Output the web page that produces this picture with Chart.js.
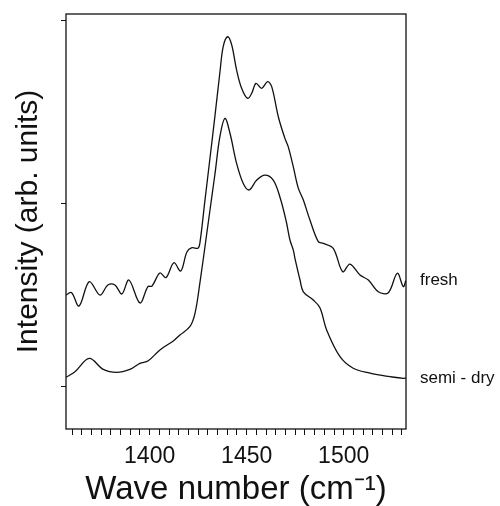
<!DOCTYPE html>
<html>
<head>
<meta charset="utf-8">
<script src="https://cdn.jsdelivr.net/npm/chart.js@4/dist/chart.umd.min.js"></script>
<style>
html,body{margin:0;padding:0;background:#fff;}
#wrap{width:500px;height:506px;}
</style>
</head>
<body>
<div id="wrap"><canvas id="c" width="500" height="506"></canvas></div>
<script>
// wave numbers (cm-1) and intensities
var freshX=[1356.9,1359.8,1363.6,1368.9,1374.4,1378.5,1382.1,1385.7,1389.3,1395,1399.1,1401.2,1405.3,1408.4,1412.5,1416,1419.2,1421.8,1424.9,1425.9,1428.5,1431.1,1433.7,1436.2,1437.9,1440.2,1442.3,1444.8,1447.4,1450.5,1452.6,1454.8,1457.7,1460.8,1462.9,1466.3,1469.7,1471.4,1474,1476.6,1479.2,1482.6,1486.9,1489.5,1494.6,1499.5,1503.2,1508.4,1512.7,1517.8,1523,1527.6,1530.7,1532];
var freshY=[0.501,0.514,0.441,0.574,0.501,0.556,0.556,0.507,0.583,0.458,0.547,0.550,0.621,0.596,0.677,0.632,0.736,0.759,0.756,0.785,1.017,1.248,1.482,1.714,1.855,1.909,1.864,1.728,1.628,1.573,1.601,1.655,1.628,1.664,1.637,1.473,1.355,1.310,1.201,1.084,1.019,0.910,0.792,0.783,0.756,0.628,0.670,0.610,0.583,0.519,0.514,0.620,0.547,0.58];
var semiX=[1356.9,1361.5,1368.9,1376.1,1383,1389.8,1395,1399.3,1405.3,1412.2,1415.6,1420.8,1423.4,1425.9,1429.4,1432.3,1433.7,1436.2,1438.8,1441.4,1444.8,1448.2,1451.2,1455.2,1459.4,1463.7,1467.2,1470.4,1472.3,1474,1474.9,1477.5,1479.2,1484.3,1487.8,1491.2,1498.1,1504.9,1513.6,1518.7,1523.9,1530.7,1532];
var semiY=[0.053,0.083,0.156,0.096,0.080,0.096,0.129,0.143,0.202,0.251,0.283,0.330,0.403,0.567,0.834,1.057,1.164,1.364,1.464,1.383,1.219,1.110,1.074,1.128,1.155,1.128,1.033,0.902,0.801,0.747,0.70,0.583,0.519,0.474,0.431,0.311,0.165,0.102,0.075,0.065,0.056,0.047,0.049];
var seriesNames=['fresh','semi - dry'];
var xTicks=[1400,1450,1500];
var yTicks=[0,1,2];

function pts(xs,ys){return xs.map(function(x,i){return {x:x,y:ys[i]};});}

var frame={
  id:'frame',
  afterDatasetsDraw:function(ch){
    var a=ch.chartArea,ctx=ch.ctx;
    ctx.save();
    ctx.strokeStyle='#111';ctx.lineWidth=1.3;
    ctx.strokeRect(a.left,a.top,a.right-a.left,a.bottom-a.top);
    ctx.fillStyle='#111';ctx.font='17px "Liberation Sans", Arial, sans-serif';
    ctx.textBaseline='middle';ctx.textAlign='left';
    ch.data.datasets.forEach(function(ds){
      var last=ds.data[ds.data.length-1];
      ctx.fillText(ds.label,a.right+14,ch.scales.y.getPixelForValue(last.y));
    });
    ctx.restore();
  }
};

new Chart(document.getElementById('c').getContext('2d'),{
  type:'scatter',
  data:{datasets:[
    {label:seriesNames[0],data:pts(freshX,freshY),showLine:true,borderColor:'#111',borderWidth:1.3,pointRadius:0,tension:0.35,fill:false},
    {label:seriesNames[1],data:pts(semiX,semiY),showLine:true,borderColor:'#111',borderWidth:1.3,pointRadius:0,tension:0.35,fill:false}
  ]},
  options:{
    responsive:false,animation:false,
    layout:{padding:{left:0,right:94,top:14,bottom:0}},
    plugins:{legend:{display:false},tooltip:{enabled:false}},
    scales:{
      x:{type:'linear',min:1356.9,max:1532.1,
        afterFit:function(s){s.height=77;},
        afterBuildTicks:function(s){var t=[];for(var v=1360;v<=1530;v+=5)t.push({value:v});s.ticks=t;},
        grid:{drawOnChartArea:false,drawTicks:true,tickLength:6,color:'#111'},
        border:{display:false},
        ticks:{autoSkip:false,maxRotation:0,padding:8,color:'#111',font:{family:'"Liberation Sans", Arial, sans-serif',size:23},
          callback:function(v){return xTicks.indexOf(v)>=0?String(v):'';}},
        title:{display:true,text:'Wave number (cm\u207B\u00B9)',color:'#111',font:{family:'"Liberation Sans", Arial, sans-serif',size:33,lineHeight:1},padding:{top:0,bottom:0}}
      },
      y:{type:'linear',min:-0.229,max:2.033,
        afterFit:function(s){s.width=66;},
        afterBuildTicks:function(s){s.ticks=yTicks.map(function(v){return {value:v};});},
        grid:{drawOnChartArea:false,drawTicks:true,tickLength:5,color:'#111'},
        border:{display:false},
        ticks:{display:false},
        title:{display:true,text:'Intensity (arb. units)',color:'#111',font:{family:'"Liberation Sans", Arial, sans-serif',size:30,lineHeight:1.2},padding:{top:11,bottom:0}}
      }
    }
  },
  plugins:[frame]
});
</script>
</body>
</html>
